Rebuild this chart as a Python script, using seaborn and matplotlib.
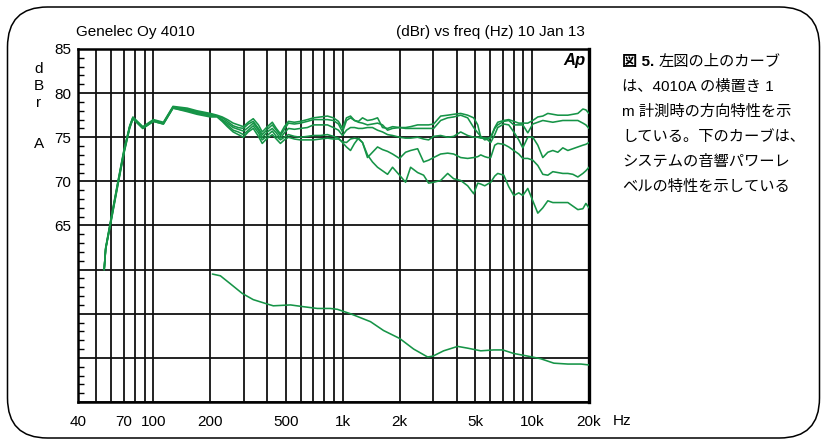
import matplotlib
matplotlib.use("Agg")
import matplotlib.pyplot as plt
import numpy as np
import pandas as pd
import seaborn as sns
from matplotlib.patches import FancyBboxPatch
from matplotlib.ticker import FixedLocator, NullLocator

# ---------------- data ----------------
low_freq = [55, 56, 60, 65, 70, 75, 78, 88, 100, 113, 127, 151, 170, 200]
c1_low = [60.0, 62.5, 66.0, 70.0, 73.6, 76.3, 77.3, 76.2, 77.0, 76.7, 78.5, 78.3, 78.0, 77.7]
c2_low = [60.0, 62.4, 65.9, 69.9, 73.5, 76.2, 77.2, 76.1, 76.9, 76.6, 78.4, 78.2, 77.9, 77.6]
c3_low = [60.0, 62.4, 65.8, 69.8, 73.4, 76.2, 77.2, 76.1, 76.9, 76.6, 78.4, 78.1, 77.8, 77.5]
c4_low = [60.0, 62.3, 65.7, 69.7, 73.3, 76.1, 77.1, 76.0, 76.8, 76.5, 78.3, 78.0, 77.7, 77.4]
c5_low = [60.0, 62.3, 65.6, 69.6, 73.2, 76.0, 77.1, 76.0, 76.8, 76.5, 78.3, 77.9, 77.6, 77.3]

hi_freq = [217, 231, 246, 264, 281, 299, 317, 337, 359, 376,
           400, 425, 446, 469, 492, 517, 556, 598, 651, 701,
           763, 831, 894, 950, 998, 1047, 1100, 1155, 1212, 1273,
           1352, 1437, 1528, 1624, 1726, 1834, 1997, 2149, 2284, 2488,
           2676, 2844, 3023, 3292, 3586, 3856, 4200, 4573, 4920, 5169,
           5360, 5628, 5836, 6052, 6356, 6591, 7093, 7537, 8012, 8513,
           8940, 9502, 10096, 10731, 11404, 12121, 12881, 13689, 14548, 15462,
           16434, 17466, 18566, 19256, 20000]
c1_hi = [77.5, 77.3, 77.0, 76.6, 76.4, 76.2, 76.7, 77.1, 76.4, 75.6,
         76.2, 76.7, 76.0, 75.4, 76.2, 76.8, 76.7, 76.8, 77.0, 77.2,
         77.3, 77.4, 77.2, 76.8, 76.0, 77.2, 77.4, 76.9, 76.8, 77.2,
         76.9, 77.0, 77.2, 76.1, 76.0, 76.2, 76.1, 76.1, 76.2, 76.4,
         76.4, 76.4, 76.5, 77.4, 77.5, 77.6, 77.7, 77.5, 77.2, 76.4,
         75.0, 74.9, 74.9, 75.0, 76.1, 76.7, 76.9, 77.0, 76.8, 76.6,
         76.6, 76.6, 76.9, 77.3, 77.4, 77.7, 77.6, 77.5, 77.5, 77.5,
         77.6, 77.7, 78.2, 78.1, 77.7]
c2_hi = [77.4, 77.2, 76.8, 76.3, 76.1, 76.0, 76.5, 76.8, 76.0, 75.3,
         75.9, 76.4, 75.8, 75.2, 75.9, 76.6, 76.5, 76.6, 76.8, 77.0,
         77.0, 77.0, 76.9, 76.5, 75.6, 76.9, 77.2, 76.9, 76.7, 76.6,
         76.4, 76.5, 76.6, 76.4, 75.8, 76.0, 76.1, 76.0, 76.0, 76.0,
         76.0, 76.0, 76.0, 76.9, 77.2, 77.3, 77.5, 77.2, 76.1, 75.5,
         75.1, 74.7, 74.8, 74.9, 76.0, 76.4, 76.8, 76.9, 76.4, 76.4,
         76.4, 75.5, 76.5, 76.7, 76.9, 76.8, 76.7, 76.8, 76.9, 76.9,
         76.9, 76.9, 76.6, 76.4, 76.0]
c3_hi = [77.4, 77.0, 76.6, 76.1, 75.9, 75.7, 76.1, 76.6, 75.8, 75.0,
         75.6, 76.0, 75.5, 74.9, 75.5, 76.0, 75.9, 76.0, 76.1, 76.4,
         76.4, 76.4, 76.1, 75.8, 75.2, 75.8, 76.1, 76.1, 76.0, 76.0,
         76.1, 76.1, 75.8, 75.6, 75.3, 75.2, 75.0, 74.9, 74.9, 75.0,
         74.8, 74.7, 75.1, 75.2, 75.0, 75.1, 75.6, 75.2, 75.0, 75.0,
         74.9, 74.9, 74.7, 74.4, 75.3, 76.1, 76.5, 76.4, 75.6, 74.7,
         73.8, 75.0, 75.0, 74.1, 72.7, 73.3, 73.5, 73.3, 73.8, 73.5,
         73.7, 73.9, 74.1, 74.2, 74.4]
c4_hi = [77.4, 76.9, 76.4, 75.8, 75.6, 75.3, 75.8, 76.3, 75.5, 74.7,
         75.2, 75.7, 75.1, 74.7, 75.0, 75.3, 75.1, 75.0, 75.1, 75.2,
         75.2, 75.3, 75.1, 74.9, 74.4, 73.9, 73.5, 74.3, 74.9, 74.4,
         72.7, 73.3, 73.9, 73.6, 73.4, 73.1, 72.6, 73.3, 73.5, 73.7,
         72.2, 72.4, 72.7, 73.1, 73.2, 73.1, 72.7, 72.6, 72.7, 72.8,
         73.0, 72.8, 72.7, 72.7, 74.1, 74.3, 74.2, 73.9, 73.5, 73.1,
         72.6, 72.6, 72.4, 71.8, 70.8, 70.7, 71.1, 71.0, 70.9, 70.9,
         70.8, 70.5, 70.9, 71.2, 71.6]
c5_hi = [77.3, 76.8, 76.2, 75.6, 75.3, 75.0, 75.6, 76.0, 75.1, 74.3,
         74.9, 75.3, 74.8, 74.3, 74.7, 75.0, 74.8, 74.7, 74.7, 74.7,
         74.8, 74.9, 74.8, 74.8, 74.5, 74.4, 74.8, 74.9, 74.8, 74.4,
         73.0, 72.2, 71.6, 71.2, 70.8, 71.6, 70.7, 69.9, 71.6, 71.0,
         70.7, 69.8, 69.9, 70.1, 70.9, 70.3, 70.1, 69.5, 68.6, 69.8,
         69.7, 69.5, 69.7, 69.9, 70.6, 70.9, 70.7, 69.4, 68.4, 68.7,
         68.4, 69.2, 67.8, 66.4, 67.0, 67.8, 67.6, 67.6, 67.6, 67.6,
         67.2, 66.8, 66.9, 67.5, 67.0]

power_freq = [205, 226, 255, 295, 337, 400, 430, 530, 620, 735, 862, 938, 1100,
              1403, 1644, 2000, 2370, 2810, 3000, 3414, 4049, 4573, 5360, 6277,
              7007, 8000, 9502, 11127, 13041, 15462, 18124, 20000]
power_db = [59.5, 59.3, 58.4, 57.3, 56.6, 56.1, 55.9, 56.0, 55.8, 55.6, 55.6, 55.5, 55.0,
            54.1, 53.1, 52.2, 51.0, 50.1, 50.2, 50.8, 51.3, 51.1, 50.8, 50.9,
            50.9, 50.5, 50.2, 49.9, 49.4, 49.3, 49.3, 49.2]

grid_freqs = [50, 60, 70, 80, 90, 100, 200, 300, 400, 500, 600, 700, 800, 900,
              1000, 2000, 3000, 4000, 5000, 6000, 7000, 8000, 9000, 10000]
xlabel_pos = [40, 70, 100, 200, 500, 1000, 2000, 5000, 10000, 20000]
xlabel_txt = ["40", "70", "100", "200", "500", "1k", "2k", "5k", "10k", "20k"]
ytick_pos = [45, 50, 55, 60, 65, 70, 75, 80, 85]
ytick_txt = ["", "", "", "", "65", "70", "75", "80", "85"]

caption_lines = ["は、4010A の横置き 1", "m 計測時の方向特性を示", "している。下のカーブは、",
                 "システムの音響パワーレ", "ベルの特性を示している"]

# ---------------- figure ----------------
sns.set_style("white")
plt.rcParams['font.family'] = ['Liberation Sans', 'Noto Sans CJK JP', 'DejaVu Sans']
plt.rcParams['text.color'] = 'black'
plt.rcParams['xtick.color'] = 'black'
plt.rcParams['ytick.color'] = 'black'
plt.rcParams['axes.edgecolor'] = 'black'

GREEN = "#169447"
W, H = 822, 443
fig = plt.figure(figsize=(W / 100, H / 100), dpi=100)
ax = fig.add_axes([78 / W, 41 / H, 511 / W, 353 / H])

frames = []
for name, lo, hi in [("c1", c1_low, c1_hi), ("c2", c2_low, c2_hi), ("c3", c3_low, c3_hi),
                     ("c4", c4_low, c4_hi), ("c5", c5_low, c5_hi)]:
    frames.append(pd.DataFrame({"freq": low_freq + hi_freq, "level": lo + hi, "curve": name}))
frames.append(pd.DataFrame({"freq": power_freq, "level": power_db, "curve": "power"}))
df = pd.concat(frames, ignore_index=True)

sns.lineplot(data=df, x="freq", y="level", hue="curve", units="curve", estimator=None,
             palette={k: GREEN for k in df["curve"].unique()}, legend=False,
             linewidth=1.15, ax=ax, zorder=3)

ax.set_xscale("log")
ax.set_xlim(40, 20000)
ax.set_ylim(45, 85)
ax.set_xlabel("")
ax.set_ylabel("")

# x ticks / grid
allx = sorted(set(grid_freqs + xlabel_pos))
ax.xaxis.set_major_locator(FixedLocator(allx))
ax.set_xticklabels([xlabel_txt[xlabel_pos.index(v)] if v in xlabel_pos else "" for v in allx])
ax.xaxis.set_minor_locator(NullLocator())
ax.tick_params(axis="x", which="major", length=0, pad=9, labelsize=11)

# y ticks / grid
ax.yaxis.set_major_locator(FixedLocator(ytick_pos))
ax.set_yticklabels(ytick_txt)
ax.yaxis.set_minor_locator(FixedLocator(list(range(45, 86))))
ax.tick_params(axis="y", which="major", length=0, pad=5, labelsize=11, left=True)
ax.tick_params(axis="y", which="minor", direction="in", length=4, width=1.0, left=True)

ax.grid(True, which="major", color="#111111", linewidth=1.3, zorder=1)
ax.set_axisbelow(True)
for side, lw in [("left", 1.8), ("bottom", 1.8), ("top", 1.8), ("right", 2.4)]:
    ax.spines[side].set_visible(True)
    ax.spines[side].set_linewidth(lw)
    ax.spines[side].set_color("black")

# texts
fs = 11
fig.text(76 / W, 1 - 32 / H, "Genelec Oy 4010", ha="left", va="center", fontsize=fs)
fig.text(585 / W, 1 - 32 / H, "(dBr) vs freq (Hz) 10 Jan 13", ha="right", va="center", fontsize=fs)
fig.text(585 / W, 1 - 61 / H, "Ap", ha="right", va="center", fontsize=12,
         fontweight="bold", fontstyle="italic")
for ch, yc in [("d", 69), ("B", 86), ("r", 103), ("A", 144)]:
    fig.text(39 / W, 1 - yc / H, ch, ha="center", va="center", fontsize=fs)
fig.text(622 / W, 1 - 421 / H, "Hz", ha="center", va="center", fontsize=fs)

# caption on the right
jp = ["Liberation Sans", "Noto Sans CJK JP", "DejaVu Sans"]
cap_fs = 11
x0 = 622
line_y = [61.7, 86.7, 111.7, 136.7, 161.7, 186.7]
t_bold = fig.text(x0 / W, 1 - line_y[0] / H, "図 5.", ha="left", va="center",
                  fontsize=cap_fs, fontweight="bold", family=jp)
fig.canvas.draw()
bb = t_bold.get_window_extent(renderer=fig.canvas.get_renderer())
fig.text((bb.x1 + 4) / W, 1 - line_y[0] / H, "左図の上のカーブ", ha="left", va="center",
         fontsize=cap_fs, family=jp)
for txt, yy in zip(caption_lines, line_y[1:]):
    fig.text(x0 / W, 1 - yy / H, txt, ha="left", va="center", fontsize=cap_fs, family=jp)

# rounded outer frame
frame = FancyBboxPatch((0.075, 0.05), 8.12, 4.31, boxstyle="round,pad=0,rounding_size=0.4",
                       transform=fig.dpi_scale_trans, fill=False, edgecolor="black", linewidth=1.1)
fig.add_artist(frame)

fig.savefig("out.png", dpi=100)
